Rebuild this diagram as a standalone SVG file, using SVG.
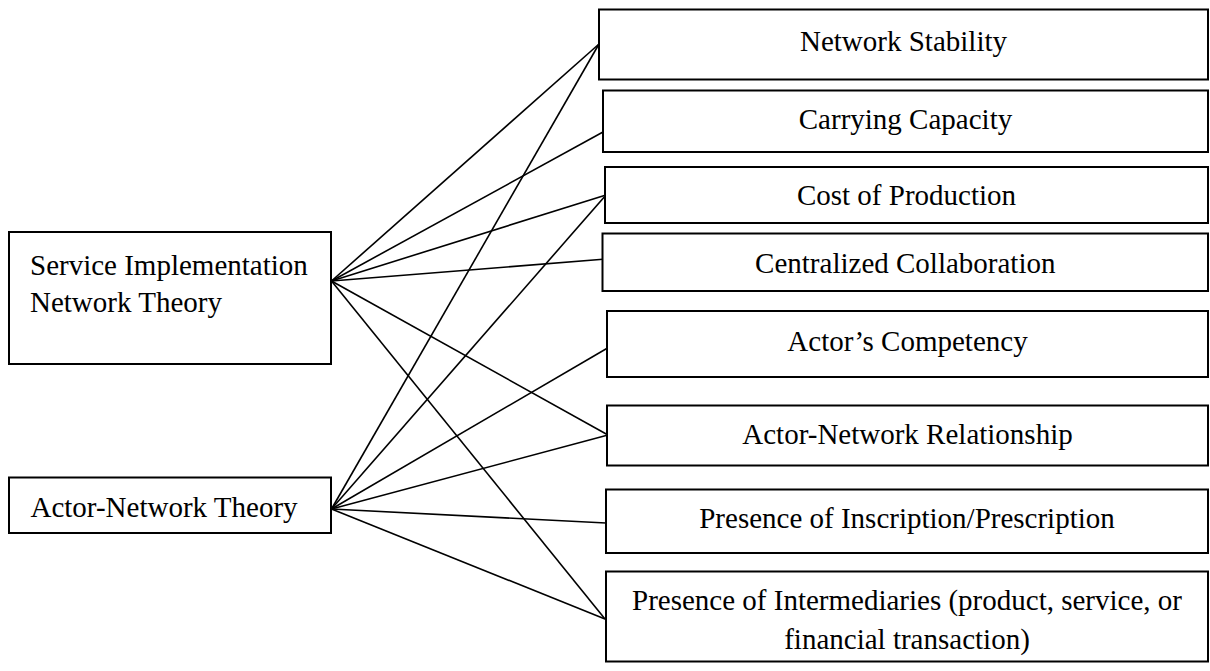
<svg xmlns="http://www.w3.org/2000/svg" width="1210" height="671" viewBox="0 0 1210 671">
<style>
.box{fill:#fff;stroke:#000;stroke-width:2}
.t{font-family:"Liberation Serif","Times New Roman",serif;font-size:29px;fill:#000}
.c{text-anchor:middle}
.ln{stroke:#000;stroke-width:1.6;fill:none}
</style>
<rect width="1210" height="671" fill="#fff"/>
<g id="connectors">
<line class="ln" x1="331.5" y1="281" x2="599" y2="44"/>
<line class="ln" x1="331.5" y1="281" x2="603" y2="132"/>
<line class="ln" x1="331.5" y1="281" x2="606" y2="195"/>
<line class="ln" x1="331.5" y1="281" x2="606" y2="259"/>
<line class="ln" x1="331.5" y1="281" x2="608" y2="435"/>
<line class="ln" x1="331.5" y1="281" x2="605" y2="619"/>
<line class="ln" x1="331.5" y1="509" x2="599" y2="44"/>
<line class="ln" x1="331.5" y1="509" x2="606" y2="195"/>
<line class="ln" x1="331.5" y1="509" x2="611" y2="346"/>
<line class="ln" x1="331.5" y1="509" x2="608" y2="435"/>
<line class="ln" x1="331.5" y1="509" x2="606" y2="523"/>
<line class="ln" x1="331.5" y1="509" x2="605" y2="619"/>
</g>
<g id="sint">
<rect class="box" x="9" y="232" width="322" height="132"/>
<text class="t" x="30" y="275">Service Implementation</text>
<text class="t" x="30" y="312">Network Theory</text>
</g>
<g id="ant">
<rect class="box" x="9" y="477.5" width="322" height="55.5"/>
<text class="t" x="30.5" y="516.5">Actor-Network Theory</text>
</g>
<g id="network-stability">
<rect class="box" x="599" y="9.5" width="609" height="70"/>
<text class="t c" x="903.5" y="51">Network Stability</text>
</g>
<g id="carrying-capacity">
<rect class="box" x="603" y="90.5" width="605" height="61.5"/>
<text class="t c" x="905.5" y="129">Carrying Capacity</text>
</g>
<g id="cost-of-production">
<rect class="box" x="605" y="167" width="603" height="56"/>
<text class="t c" x="906.5" y="205">Cost of Production</text>
</g>
<g id="centralized-collaboration">
<rect class="box" x="602.5" y="233.5" width="605.5" height="57.5"/>
<text class="t c" x="905.3" y="272.5">Centralized Collaboration</text>
</g>
<g id="actors-competency">
<rect class="box" x="607" y="311" width="601" height="66"/>
<text class="t c" x="907.5" y="350.5">Actor’s Competency</text>
</g>
<g id="actor-network-relationship">
<rect class="box" x="607" y="405.5" width="601" height="60"/>
<text class="t c" x="907.5" y="444">Actor-Network Relationship</text>
</g>
<g id="inscription-prescription">
<rect class="box" x="606" y="489.5" width="602" height="63.5"/>
<text class="t c" x="907" y="527.5">Presence of Inscription/Prescription</text>
</g>
<g id="intermediaries">
<rect class="box" x="606" y="571.5" width="602" height="90"/>
<text class="t c" x="907" y="610">Presence of Intermediaries (product, service, or</text>
<text class="t c" x="907" y="648.5">financial transaction)</text>
</g>
</svg>
